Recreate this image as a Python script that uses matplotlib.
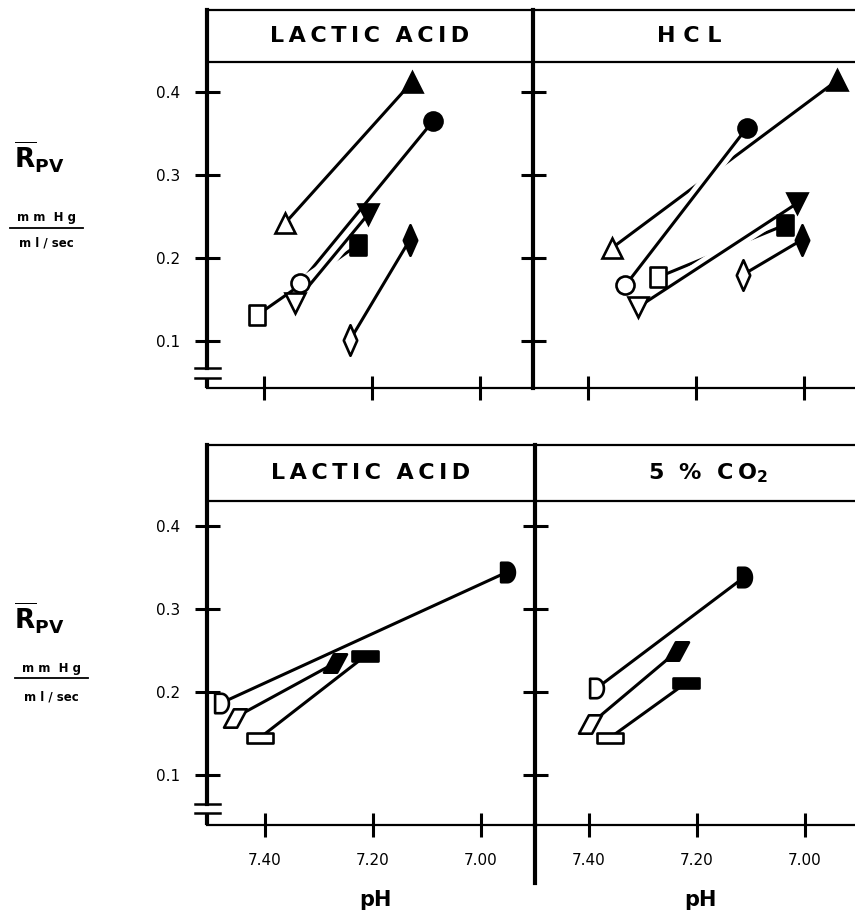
import matplotlib
matplotlib.use("Agg")
import matplotlib.pyplot as plt
import matplotlib.patheffects as pe
from matplotlib.lines import Line2D
from matplotlib.path import Path
import numpy as np

plt.rcParams["font.family"] = ["DejaVu Sans"]
plt.rcParams["mathtext.fontset"] = "dejavusans"

# ---------------------------------------------------------------------
# Data (pH, mean pulmonary vascular resistance), before -> after
# ---------------------------------------------------------------------
Y_TICKS = [0.1, 0.2, 0.3, 0.4]
Y_TICK_LABELS = ["0.1", "0.2", "0.3", "0.4"]
X_TICKS = [7.40, 7.20, 7.00]
X_TICK_LABELS = ["7.40", "7.20", "7.00"]

# top row subjects: triangle up, circle, triangle down, square, diamond
lactic1_ph_pre = [7.361, 7.333, 7.343, 7.413, 7.241]
lactic1_r_pre = [0.242, 0.170, 0.146, 0.131, 0.101]
lactic1_ph_post = [7.126, 7.087, 7.207, 7.226, 7.130]
lactic1_r_post = [0.412, 0.365, 0.253, 0.216, 0.222]

hcl_ph_pre = [7.356, 7.331, 7.307, 7.270, 7.113]
hcl_r_pre = [0.212, 0.167, 0.141, 0.177, 0.180]
hcl_ph_post = [6.939, 7.106, 7.013, 7.035, 7.004]
hcl_r_post = [0.414, 0.357, 0.266, 0.240, 0.222]

# bottom row subjects: D shape, parallelogram, flat bar
lactic2_ph_pre = [7.480, 7.456, 7.409]
lactic2_r_pre = [0.187, 0.169, 0.145]
lactic2_ph_post = [6.950, 7.270, 7.215]
lactic2_r_post = [0.345, 0.235, 0.243]

co2_ph_pre = [7.385, 7.398, 7.361]
co2_r_pre = [0.205, 0.161, 0.145]
co2_ph_post = [7.111, 7.237, 7.220]
co2_r_post = [0.339, 0.249, 0.211]

# ---------------------------------------------------------------------
# Hand-drawn looking marker shapes
# ---------------------------------------------------------------------
def closed(verts):
    return Path(verts + [verts[0]], closed=True)

TALL_RECT = closed([(-0.37, -0.5), (0.37, -0.5), (0.37, 0.5), (-0.37, 0.5)])
THIN_DIAMOND = closed([(0, 0.5), (0.22, 0), (0, -0.5), (-0.22, 0)])
PARALLELOGRAM = closed([(-0.5, -0.4), (0.07, -0.4), (0.5, 0.4), (-0.07, 0.4)])
FLAT_BAR = closed([(-0.5, -0.2), (0.5, -0.2), (0.5, 0.2), (-0.5, 0.2)])
_t = np.linspace(np.pi / 2, -np.pi / 2, 25)
D_SHAPE = closed([(-0.38, 0.5)] + [(-0.05 + 0.38 * np.cos(a), 0.5 * np.sin(a)) for a in _t] + [(-0.38, -0.5)])

TOP_MARKERS = [("^", 14), ("o", 13), ("v", 14), (TALL_RECT, 15), (THIN_DIAMOND, 22)]
BOTTOM_MARKERS = [(D_SHAPE, 14), (PARALLELOGRAM, 16.5), (FLAT_BAR, 19)]

W, H = 855, 913
fig = plt.figure(figsize=(W / 100, H / 100), dpi=100)


def add_panel(x0, x1, y0, y1, xlim, ylim):
    ax = fig.add_axes([x0 / W, 1 - y1 / H, (x1 - x0) / W, (y1 - y0) / H])
    ax.set_xlim(*xlim)
    ax.set_ylim(*ylim)
    ax.spines["right"].set_visible(False)
    ax.spines["left"].set_linewidth(3.0)
    ax.spines["bottom"].set_linewidth(1.6)
    ax.spines["top"].set_linewidth(1.6)
    ax.set_yticks(Y_TICKS)
    ax.set_xticks(X_TICKS)
    ax.tick_params(axis="y", direction="inout", length=18, width=2.2, pad=10, labelsize=11)
    ax.tick_params(axis="x", direction="inout", length=17, width=2.2, pad=12, labelsize=11)
    ax.patch.set_alpha(0)
    return ax


def draw_pairs(ax, markers, ph_pre, r_pre, ph_post, r_post, order):
    z = 2
    for i in order:
        ax.plot([ph_pre[i], ph_post[i]], [r_pre[i], r_post[i]], color="black", lw=2.2,
                solid_capstyle="round", zorder=z,
                path_effects=[pe.Stroke(linewidth=9, foreground="white"), pe.Normal()])
        z += 1
    for i, (mk, ms) in enumerate(markers):
        ax.plot(ph_pre[i], r_pre[i], marker=mk, ms=ms, mfc="white", mec="black", mew=1.9,
                ls="none", zorder=20)
        ax.plot(ph_post[i], r_post[i], marker=mk, ms=ms, mfc="black", mec="black", mew=1.9,
                ls="none", zorder=20)


def header(ax, yline, title, xfrac):
    ax.axhline(yline, color="black", lw=1.6)
    top = ax.get_ylim()[1]
    ax.text(xfrac, (yline + top) / 2, title, transform=ax.get_yaxis_transform(),
            ha="center", va="center", fontsize=16, fontweight="bold")


def axis_break(ax, y_hi, y_lo):
    ax.spines["left"].set_bounds(y_hi, ax.get_ylim()[1])
    tr = ax.get_yaxis_transform()
    ax.plot([0, 0], [ax.get_ylim()[0], y_lo], color="black", lw=3.0, transform=tr,
            clip_on=False, solid_capstyle="butt")
    for yy in (y_hi, y_lo):
        ax.plot([-0.037, 0.04], [yy, yy], color="black", lw=1.8, transform=tr, clip_on=False)


# ---------------------------------------------------------------------
# Panels
# ---------------------------------------------------------------------
top_ylim = (0.0434, 0.4988)
bot_ylim = (0.0398, 0.4976)

ax1 = add_panel(207, 533, 10, 388, (7.5056, 6.902), top_ylim)
ax2 = add_panel(533, 855, 10, 388, (7.502, 6.906), top_ylim)
ax3 = add_panel(207, 535, 445, 825, (7.507, 6.900), bot_ylim)
ax4 = add_panel(535, 855, 445, 825, (7.500, 6.907), bot_ylim)

for ax in (ax1, ax2):
    ax.set_xticklabels([])
for ax in (ax2, ax4):
    ax.set_yticklabels([])
for ax in (ax1, ax3):
    ax.set_yticklabels(Y_TICK_LABELS)
for ax in (ax3, ax4):
    ax.set_xticklabels(X_TICK_LABELS)

TS = "\u2009"  # thin space, for the wide lettering of the original
header(ax1, 0.436, TS.join("LACTIC") + "  " + TS.join("ACID"), 0.50)
header(ax2, 0.436, "H C L", 0.485)
header(ax3, 0.430, TS.join("LACTIC") + "  " + TS.join("ACID"), 0.50)
header(ax4, 0.430, "5  %  C" + TS + "O$_\\mathbf{2}$", 0.54)

axis_break(ax1, 0.0675, 0.0555)
axis_break(ax3, 0.065, 0.0542)

# divider of the bottom row runs below the axis
ax4.plot([0, 0], [0, -0.153], color="black", lw=3.0, transform=ax4.transAxes, clip_on=False)

draw_pairs(ax1, TOP_MARKERS, lactic1_ph_pre, lactic1_r_pre, lactic1_ph_post, lactic1_r_post,
           [0, 1, 3, 2, 4])
draw_pairs(ax2, TOP_MARKERS, hcl_ph_pre, hcl_r_pre, hcl_ph_post, hcl_r_post,
           [0, 3, 4, 1, 2])
draw_pairs(ax3, BOTTOM_MARKERS, lactic2_ph_pre, lactic2_r_pre, lactic2_ph_post, lactic2_r_post,
           [0, 1, 2])
draw_pairs(ax4, BOTTOM_MARKERS, co2_ph_pre, co2_r_pre, co2_ph_post, co2_r_post,
           [0, 1, 2])

for ax, xpix, x0, w in ((ax3, 375, 207, 328), (ax4, 700, 535, 320)):
    ax.text((xpix - x0) / w, -0.197, "pH", transform=ax.transAxes, ha="center", va="center",
            fontsize=15, fontweight="bold")

# y axis labels (mean Rpv, mm Hg per ml/sec)
for r_y, num_y, line_y, den_y, lx0, lx1 in ((157, 217, 228, 243, 10, 83),
                                             (618, 668, 678, 697, 15, 88)):
    fig.text(14 / W, 1 - r_y / H, r"$\overline{\mathbf{R}}_{\mathbf{PV}}$", fontsize=19,
             ha="left", va="center")
    fig.text((lx0 + lx1) / 2 / W, 1 - num_y / H, "m m  H g", fontsize=8.5, fontweight="bold",
             ha="center", va="center")
    fig.add_artist(Line2D([lx0 / W, lx1 / W], [1 - line_y / H, 1 - line_y / H],
                          transform=fig.transFigure, color="black", lw=1.3))
    fig.text((lx0 + lx1) / 2 / W, 1 - den_y / H, "m l / sec", fontsize=8.5, fontweight="bold",
             ha="center", va="center")

fig.savefig("out.png", dpi=100)
